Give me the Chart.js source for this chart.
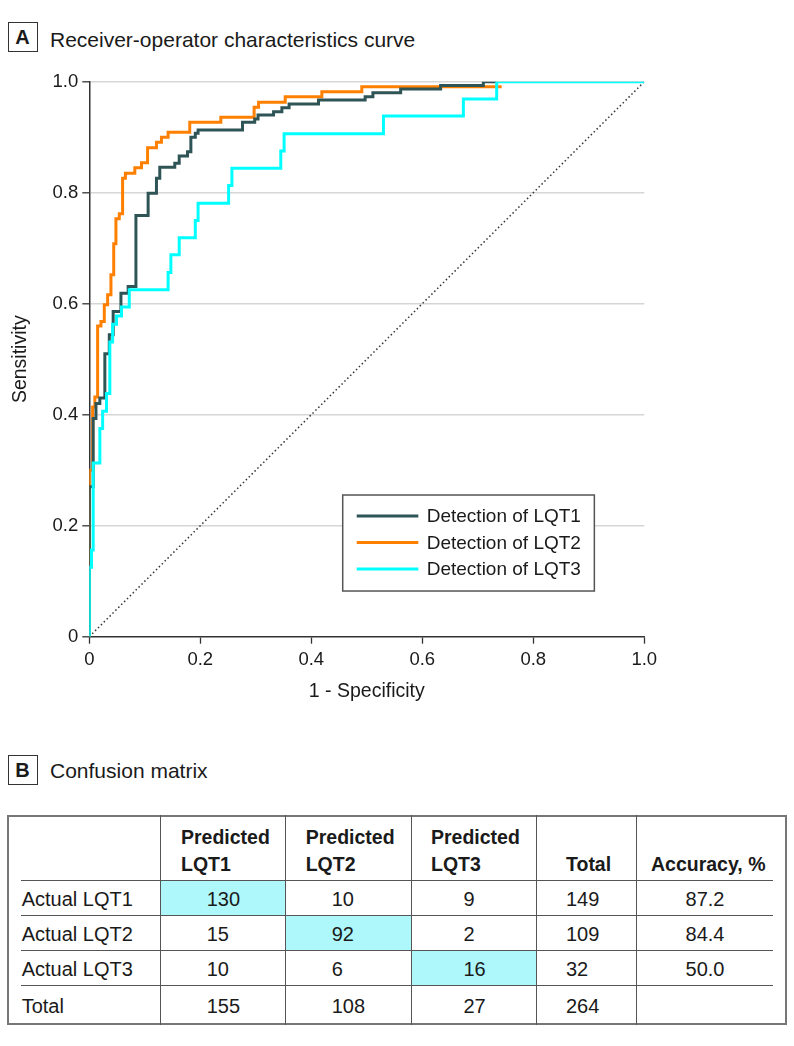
<!DOCTYPE html>
<html>
<head>
<meta charset="utf-8">
<script src="https://cdn.jsdelivr.net/npm/chart.js@4.4.1/dist/chart.umd.min.js"></script>
<style>
  html, body { margin: 0; padding: 0; background: #fff; }
  body { width: 794px; height: 1046px; position: relative; overflow: hidden;
         font-family: "Liberation Sans", Arial, sans-serif; color: #1a1a1a; }
  #wrap { position: absolute; left: 0; top: 0; width: 794px; height: 720px; }
  .pbox { position: absolute; width: 30px; height: 30px; border: 1.3px solid #333; box-sizing: border-box;
          font-weight: bold; font-size: 20px; line-height: 28px; text-align: center; }
  .ptitle { position: absolute; font-size: 21px; line-height: 21px; white-space: nowrap; }
  .t { position: absolute; white-space: nowrap; font-size: 20px; line-height: 20px; }
  .b { font-weight: bold; font-size: 19.5px; }
  .ln { position: absolute; background: #555; }
  .cell { position: absolute; background: #aef7fa; }
</style>
</head>
<body>
<div class="pbox" style="left:7.5px; top:22px;">A</div>
<div class="ptitle" style="left:50px; top:28.5px;">Receiver-operator characteristics curve</div>
<div id="wrap"><canvas id="c" width="794" height="720"></canvas></div>
<div class="pbox" style="left:7.5px; top:755px;">B</div>
<div class="ptitle" style="left:50px; top:759.5px;">Confusion matrix</div>
<div id="table"></div>
<script>
// ---------- ROC data (1 - specificity, sensitivity) ----------
const lqt1Fpr = [0, 0, 0.007, 0.012, 0.019, 0.028, 0.036, 0.043, 0.057, 0.070, 0.084, 0.106, 0.121, 0.127, 0.154, 0.162, 0.177, 0.183, 0.191, 0.196, 0.276, 0.298, 0.304, 0.332, 0.347, 0.360, 0.413, 0.497, 0.511, 0.561, 0.633, 0.710, 0.733];
const lqt1Tpr = [0, 0.270, 0.393, 0.420, 0.430, 0.510, 0.544, 0.586, 0.619, 0.631, 0.759, 0.799, 0.826, 0.846, 0.853, 0.866, 0.874, 0.900, 0.907, 0.913, 0.927, 0.933, 0.940, 0.946, 0.953, 0.960, 0.967, 0.973, 0.980, 0.987, 0.993, 1.000, 1.000];

const lqt2Fpr = [0, 0, 0.006, 0.010, 0.015, 0.021, 0.027, 0.033, 0.039, 0.044, 0.048, 0.054, 0.060, 0.065, 0.082, 0.094, 0.105, 0.121, 0.130, 0.142, 0.181, 0.237, 0.297, 0.305, 0.353, 0.419, 0.491, 0.743];
const lqt2Tpr = [0, 0.300, 0.414, 0.432, 0.560, 0.568, 0.598, 0.616, 0.652, 0.708, 0.753, 0.762, 0.826, 0.835, 0.845, 0.854, 0.881, 0.891, 0.900, 0.909, 0.927, 0.936, 0.954, 0.963, 0.973, 0.982, 0.991, 0.991];

const lqt3Fpr = [0, 0, 0.004, 0.007, 0.019, 0.024, 0.031, 0.037, 0.042, 0.049, 0.058, 0.072, 0.142, 0.147, 0.162, 0.191, 0.196, 0.251, 0.257, 0.345, 0.351, 0.530, 0.674, 0.734, 1.0];
const lqt3Tpr = [0, 0.125, 0.156, 0.313, 0.375, 0.406, 0.438, 0.531, 0.563, 0.578, 0.594, 0.625, 0.656, 0.688, 0.719, 0.750, 0.781, 0.813, 0.844, 0.875, 0.906, 0.938, 0.969, 1.000, 1.000];

const chanceX = [0, 1];
const chanceY = [0, 1];

const seriesLabels = ['Detection of LQT1', 'Detection of LQT2', 'Detection of LQT3'];
const axisTicks = [0, 0.2, 0.4, 0.6, 0.8, 1.0];

// ---------- Confusion matrix data ----------
const headerLine1 = ['', 'Predicted', 'Predicted', 'Predicted', '', ''];
const headerLine2 = ['', 'LQT1', 'LQT2', 'LQT3', 'Total', 'Accuracy, %'];
const rowLabels = ['Actual LQT1', 'Actual LQT2', 'Actual LQT3', 'Total'];
const predLQT1 = [130, 15, 10, 155];
const predLQT2 = [10, 92, 6, 108];
const predLQT3 = [9, 2, 16, 27];
const rowTotals = [149, 109, 32, 264];
const accuracy = ['87.2', '84.4', '50.0', ''];

const zip = (xs, ys) => xs.map((x, i) => ({ x: x, y: ys[i] }));
const FONT = '"Liberation Sans", Arial, sans-serif';

const legendBox = {
  id: 'legendBox',
  afterDatasetsDraw(chart) {
    const { ctx, chartArea: ca } = chart;
    const w = ca.right - ca.left, h = ca.bottom - ca.top;
    const bx = ca.left + 0.4566 * w, by = ca.top + (1 - 0.2553) * h;
    const bw = 0.4534 * w, bh = 0.173 * h;
    ctx.save();
    ctx.fillStyle = '#fff';
    ctx.fillRect(bx, by, bw, bh);
    ctx.strokeStyle = '#555';
    ctx.lineWidth = 1.5;
    ctx.strokeRect(bx, by, bw, bh);
    const items = chart.data.datasets.filter(d => seriesLabels.includes(d.label));
    items.forEach((d, i) => {
      const y = by + 21 + i * 26.5;
      ctx.strokeStyle = d.borderColor;
      ctx.lineWidth = 3;
      ctx.beginPath();
      ctx.moveTo(bx + 14, y);
      ctx.lineTo(bx + 75.6, y);
      ctx.stroke();
      ctx.fillStyle = '#1a1a1a';
      ctx.font = '19px ' + FONT;
      ctx.textBaseline = 'middle';
      ctx.fillText(d.label, bx + 84, y + 1);
    });
    ctx.restore();
  }
};

new Chart(document.getElementById('c'), {
  type: 'scatter',
  data: {
    datasets: [
      { label: seriesLabels[0], data: zip(lqt1Fpr, lqt1Tpr), borderColor: '#2f5456', backgroundColor: '#2f5456',
        borderWidth: 3, showLine: true, stepped: 'before', pointRadius: 0, order: 1 },
      { label: seriesLabels[1], data: zip(lqt2Fpr, lqt2Tpr), borderColor: '#ff8000', backgroundColor: '#ff8000',
        borderWidth: 3, showLine: true, stepped: 'before', pointRadius: 0, order: 2 },
      { label: seriesLabels[2], data: zip(lqt3Fpr, lqt3Tpr), borderColor: '#00ffff', backgroundColor: '#00ffff',
        borderWidth: 3, showLine: true, stepped: 'before', pointRadius: 0, order: 0 },
      { label: 'chance', data: zip(chanceX, chanceY), borderColor: '#333', borderWidth: 1.5,
        borderDash: [1.5, 2.6], showLine: true, pointRadius: 0, order: 3 }
    ]
  },
  options: {
    responsive: false,
    animation: false,
    devicePixelRatio: 1,
    events: [],
    layout: { padding: { left: 0, top: 81.7, right: 149.7, bottom: 0 } },
    plugins: { legend: { display: false }, tooltip: { enabled: false } },
    scales: {
      x: {
        type: 'linear', min: 0, max: 1,
        afterFit: s => { s.height = 83.3; },
        afterBuildTicks: s => { s.ticks = axisTicks.map(v => ({ value: v })); },
        ticks: { padding: 5, color: '#1a1a1a', font: { family: FONT, size: 18.5 },
                 callback: v => v === 0 ? '0' : v.toFixed(1), maxRotation: 0 },
        grid: { drawOnChartArea: false, drawTicks: true, tickLength: 7, tickColor: '#333', tickWidth: 1.3 },
        border: { display: true, color: '#333', width: 1.5 },
        title: { display: true, text: '1 - Specificity', color: '#1a1a1a',
                 font: { family: FONT, size: 19.5 }, padding: { top: 0, bottom: 16.5 } }
      },
      y: {
        type: 'linear', min: 0, max: 1,
        afterFit: s => { s.width = 89.3; },
        afterBuildTicks: s => { s.ticks = axisTicks.map(v => ({ value: v })); },
        ticks: { padding: 4, color: '#1a1a1a', font: { family: FONT, size: 18.5 },
                 callback: v => v === 0 ? '0' : v.toFixed(1) },
        grid: { drawOnChartArea: true, drawTicks: true, tickLength: 7, tickColor: '#333', tickWidth: 1.3,
                color: c => (c.tick && c.tick.value === 0) ? 'rgba(0,0,0,0)' : '#d6d6d6', lineWidth: 1.6 },
        border: { display: true, color: '#333', width: 1.5 },
        title: { display: true, text: 'Sensitivity', color: '#1a1a1a',
                 font: { family: FONT, size: 19.5 }, padding: { top: 8.5, bottom: 0 } }
      }
    }
  },
  plugins: [legendBox]
});

// ---------- Confusion matrix table ----------
(function () {
  const host = document.getElementById('table');
  const colX = [7, 161, 286, 412, 537, 637, 787];
  const rowY = [815, 881, 916, 951, 986, 1025];
  const textLeft = [21.7, 206.7, 331.7, 463.5, 566, null];
  const headLeft = [null, 181, 305.7, 431, 566, 651];
  const add = (cls, style, txt) => {
    const d = document.createElement('div');
    d.className = cls;
    d.setAttribute('style', style);
    if (txt !== undefined) d.textContent = txt;
    host.appendChild(d);
    return d;
  };
  // highlighted diagonal cells
  [0, 1, 2].forEach(i => {
    add('cell', `left:${colX[i + 1]}px; top:${rowY[i + 1]}px; width:${colX[i + 2] - colX[i + 1]}px; height:${rowY[i + 2] - rowY[i + 1]}px;`);
  });
  // outer border
  add('ln', `left:${colX[0]}px; top:${rowY[0]}px; width:${colX[6] - colX[0]}px; height:2px; background:#777;`);
  add('ln', `left:${colX[0]}px; top:${rowY[5] - 2}px; width:${colX[6] - colX[0]}px; height:2px; background:#777;`);
  add('ln', `left:${colX[0]}px; top:${rowY[0]}px; width:2px; height:${rowY[5] - rowY[0]}px; background:#777;`);
  add('ln', `left:${colX[6] - 2}px; top:${rowY[0]}px; width:2px; height:${rowY[5] - rowY[0]}px; background:#777;`);
  // inner vertical lines
  for (let i = 1; i < 6; i++) {
    add('ln', `left:${colX[i] - 1}px; top:${rowY[0]}px; width:1px; height:${rowY[5] - rowY[0]}px;`);
  }
  // inner horizontal lines (inset)
  for (let j = 1; j < 5; j++) {
    add('ln', `left:21px; top:${rowY[j] - 1}px; width:${773 - 21}px; height:1px;`);
  }
  // header
  for (let c = 1; c < 6; c++) {
    if (headerLine1[c]) add('t b', `left:${headLeft[c]}px; top:${826.5}px;`, headerLine1[c]);
    if (headerLine2[c]) add('t b', `left:${headLeft[c]}px; top:${854}px;`, headerLine2[c]);
  }
  // body rows
  const cols = [rowLabels, predLQT1, predLQT2, predLQT3, rowTotals];
  for (let r = 0; r < 4; r++) {
    const top = (rowY[r + 1] + rowY[r + 2]) / 2 - 9.5;
    cols.forEach((col, c) => {
      add('t', `left:${textLeft[c]}px; top:${top}px;`, String(col[r]));
    });
    if (accuracy[r]) {
      add('t', `left:${colX[5]}px; width:${773 - colX[5]}px; text-align:center; top:${top}px;`, accuracy[r]);
    }
  }
})();
</script>
</body>
</html>
